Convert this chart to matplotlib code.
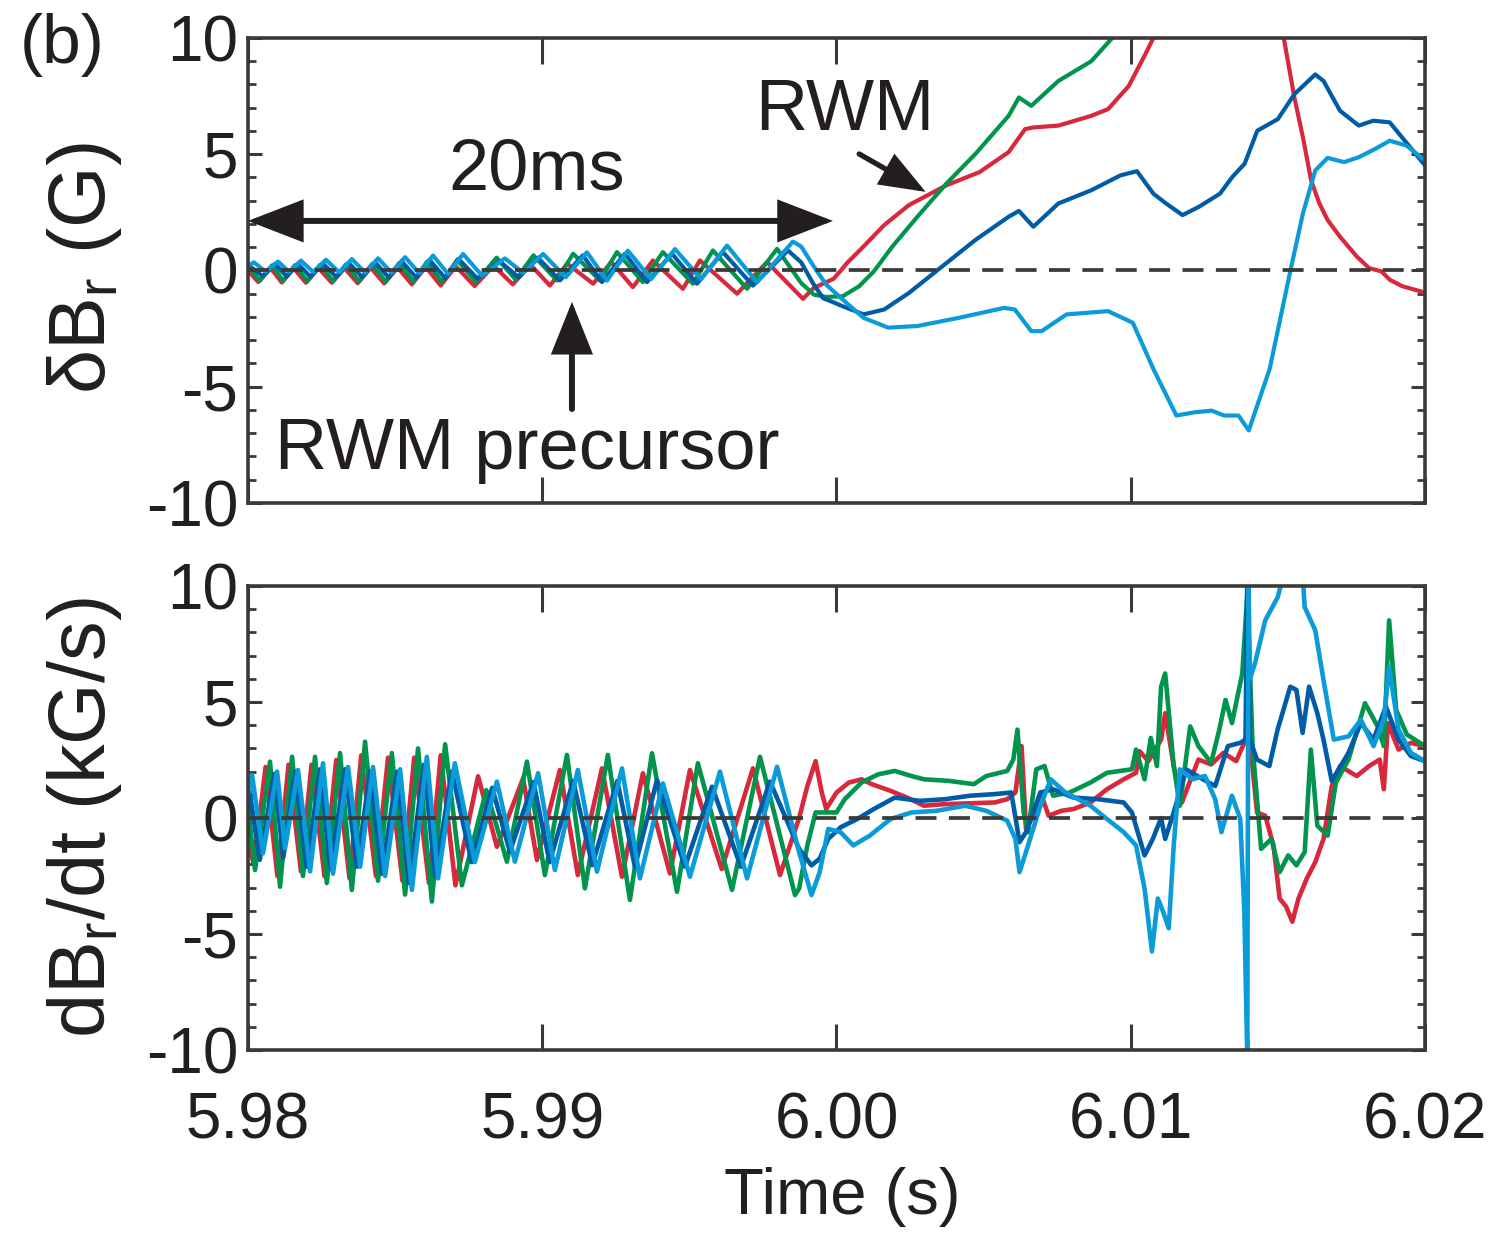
import numpy as np
import matplotlib
matplotlib.use('Agg')
import matplotlib.pyplot as plt
from matplotlib.ticker import MultipleLocator
from matplotlib.patches import FancyArrowPatch

plt.rcParams['font.family'] = ['Liberation Sans', 'DejaVu Sans']
plt.rcParams['axes.unicode_minus'] = False

nan = np.nan
T0 = 5.98  # s ; times below are in ms after T0

# ---------------- top panel: dBr (G) ----------------
top_red = [(0.00, 0.00), (0.35, -0.50), (0.77, 0.10), (1.15, -0.52), (1.55, 0.10), (1.97, -0.53),
           (2.40, 0.10), (2.85, -0.53), (3.28, 0.10), (3.73, -0.55), (4.17, 0.12), (4.63, -0.56),
           (5.09, 0.12), (5.57, -0.60), (6.04, 0.15), (6.55, -0.65), (7.06, 0.18), (7.70, -0.67),
           (8.35, 0.20), (9.00, -0.60), (9.60, 0.25), (10.26, -0.65), (10.85, 0.29), (11.73, -0.57),
           (12.35, 0.36), (13.08, -0.72), (13.76, 0.43), (14.78, -0.79), (15.36, 0.43), (16.62, -1.00),
           (17.64, 0.36), (18.86, -1.22), (19.23, -0.75), (19.90, -0.36), (20.15, 0.00), (20.35, 0.31),
           (20.92, 1.03), (21.62, 1.95), (22.46, 2.81), (23.73, 3.66), (24.86, 4.23), (25.85, 5.09),
           (26.41, 6.08), (26.69, 6.15), (27.54, 6.23), (28.66, 6.65), (29.23, 6.94), (29.93, 7.93),
           (30.49, 9.29), (30.77, 10.00), (30.90, 10.6), (nan, nan), (35.15, 10.6), (35.20, 10.00),
           (35.56, 7.44), (35.85, 5.73), (36.13, 3.87), (36.41, 2.88), (36.69, 2.17), (37.11, 1.45),
           (37.68, 0.60), (38.10, 0.10), (38.52, -0.04), (38.80, -0.40), (39.23, -0.68), (40.00, -0.95)]

top_green = [(0.00, 0.22), (0.40, -0.45), (0.82, 0.22), (1.20, -0.45), (1.60, 0.23), (2.02, -0.46),
             (2.45, 0.24), (2.90, -0.46), (3.33, 0.26), (3.78, -0.47), (4.22, 0.28), (4.68, -0.48),
             (5.14, 0.32), (5.62, -0.48), (6.09, 0.38), (6.60, -0.50), (7.11, 0.45), (7.75, -0.50),
             (8.45, 0.55), (9.10, -0.40), (9.70, 0.65), (10.50, -0.43), (11.05, 0.72), (11.96, -0.43),
             (12.54, 0.79), (13.42, -0.50), (14.10, 0.79), (15.12, -0.57), (15.80, 0.86), (16.96, -0.79),
             (17.98, 0.93), (18.80, -0.54), (19.23, -1.04), (19.65, -1.14), (20.21, -1.11), (20.77, -0.68),
             (21.27, -0.04), (21.90, 1.03), (22.75, 2.31), (23.73, 3.73), (24.72, 5.01), (25.85, 6.65),
             (26.20, 7.44), (26.62, 7.08), (27.54, 8.15), (28.66, 9.00), (29.37, 10.00), (29.55, 10.4)]

top_dblue = [(0.00, 0.25), (0.50, -0.25), (0.92, 0.27), (1.32, -0.26), (1.70, 0.28), (2.12, -0.27),
             (2.55, 0.30), (3.00, -0.28), (3.43, 0.32), (3.88, -0.29), (4.32, 0.35), (4.78, -0.30),
             (5.22, 0.40), (5.72, -0.31), (6.17, 0.45), (6.70, -0.33), (7.15, 0.50), (7.80, -0.35),
             (8.55, 0.40), (9.20, -0.30), (9.85, 0.55), (10.60, -0.43), (11.38, 0.65), (12.03, -0.50),
             (12.81, 0.72), (13.56, -0.50), (14.41, 0.72), (15.26, -0.57), (16.14, 0.79), (17.16, -0.65),
             (18.35, 0.86), (18.80, 0.35), (19.20, -0.55), (19.55, -1.20), (19.80, -1.32), (20.21, -1.54),
             (20.92, -1.89), (21.62, -1.68), (22.46, -0.97), (23.45, 0.03), (24.72, 1.31), (25.85, 2.31),
             (26.20, 2.56), (26.69, 1.88), (27.54, 2.88), (28.66, 3.45), (29.65, 4.09), (30.21, 4.27),
             (30.77, 3.30), (31.20, 2.88), (31.76, 2.38), (32.32, 2.74), (33.03, 3.30), (33.45, 4.02),
             (33.87, 4.59), (34.30, 6.01), (35.00, 6.51), (35.56, 7.58), (36.27, 8.43), (36.55, 8.15),
             (37.11, 6.87), (37.75, 6.23), (38.24, 6.44), (38.80, 6.37), (40.00, 4.52)]

top_cyan = [(0.00, 0.20), (0.20, 0.35), (0.60, -0.05), (1.02, 0.38), (1.40, -0.06), (1.80, 0.42),
            (2.22, -0.07), (2.65, 0.46), (3.10, -0.08), (3.53, 0.49), (3.98, -0.09), (4.42, 0.52),
            (4.88, -0.10), (5.34, 0.57), (5.82, -0.12), (6.29, 0.64), (6.80, -0.15), (7.31, 0.71),
            (7.95, -0.22), (8.73, 0.52), (9.35, -0.10), (10.03, 0.71), (10.80, -0.29), (11.52, 0.78),
            (12.20, -0.44), (12.91, 0.85), (13.70, -0.37), (14.51, 0.92), (15.40, -0.37), (16.28, 1.07),
            (17.30, -0.51), (18.52, 1.24), (18.80, 1.03), (19.23, 0.17), (19.65, -0.61), (20.21, -1.25),
            (20.92, -2.04), (21.76, -2.46), (22.75, -2.39), (24.15, -2.04), (25.70, -1.61), (26.06, -1.68),
            (26.62, -2.61), (26.97, -2.61), (27.82, -1.89), (29.23, -1.75), (30.07, -2.25), (30.77, -4.24),
            (31.55, -6.24), (32.18, -6.10), (32.75, -6.03), (33.17, -6.24), (33.66, -6.24), (34.01, -6.88),
            (34.72, -4.24), (35.42, -0.04), (35.85, 2.45), (36.27, 4.30), (36.69, 4.84), (37.25, 4.66),
            (37.75, 4.87), (38.31, 5.23), (38.80, 5.58), (39.37, 5.37), (40.00, 4.73)]

# ---------------- bottom panel: dBr/dt (kG/s) ----------------
bot_red = [(0.00, -1.00), (0.20, -2.00), (0.60, 2.20), (1.00, -2.50), (1.38, 2.30), (1.80, -2.30),
           (2.16, 2.30), (2.60, -2.50), (3.00, 2.50), (3.45, -2.60), (3.85, 2.70), (4.35, -2.50),
           (4.76, 2.60), (5.25, -2.70), (5.65, 2.60), (6.15, -2.80), (6.55, 2.70), (7.05, -2.90),
           (7.82, 1.80), (8.46, -1.24), (9.35, 1.71), (9.82, -1.81), (10.60, 2.07), (11.21, -2.46),
           (12.03, 2.14), (12.71, -2.53), (13.42, 1.93), (14.34, -2.39), (15.02, 2.07), (16.10, -2.20),
           (17.16, 2.14), (18.08, -2.46), (18.73, 0.00), (19.01, 1.38), (19.29, 2.45), (19.50, 1.10),
           (19.65, 0.39), (20.00, 1.10), (20.42, 1.53), (20.85, 1.67), (21.20, 1.46), (21.84, 1.17),
           (22.40, 0.88), (22.97, 0.53), (23.68, 0.60), (24.67, 0.64), (25.37, 0.67), (25.80, 0.81),
           (26.08, 1.10), (26.29, 3.10), (26.44, -0.47), (26.65, 0.00), (26.93, 1.10), (27.21, 0.10),
           (27.64, 0.31), (28.06, 0.39), (28.63, 0.67), (29.19, 1.24), (29.76, 1.67), (30.18, 1.95),
           (30.30, 2.88), (30.60, 2.45), (31.03, 3.38), (31.17, 4.52), (31.46, 2.24), (31.74, 0.67),
           (31.95, 1.38), (32.30, 2.52), (32.73, 2.31), (33.15, 2.81), (33.58, 2.45), (33.86, 3.24),
           (34.00, 3.95), (34.29, 0.24), (34.57, 0.10), (34.85, -1.18), (35.06, -3.47), (35.28, -3.82),
           (35.49, -4.47), (35.70, -3.47), (35.98, -2.61), (36.27, -1.90), (36.55, -0.90), (36.83, 1.38),
           (37.11, 2.24), (37.68, 1.81), (38.10, 2.24), (38.46, 2.52), (38.60, 1.24), (38.74, 4.09),
           (39.10, 2.95), (39.52, 3.24), (40.00, 3.10)]

bot_green = [(0.00, 0.50), (0.24, -2.24), (0.75, 2.43), (1.09, -2.96), (1.50, 2.64), (1.87, -2.50),
             (2.28, 2.64), (2.68, -2.80), (3.13, 2.80), (3.53, -3.10), (3.98, 3.29), (4.42, -2.70),
             (4.89, 2.80), (5.34, -3.30), (5.78, 3.00), (6.25, -3.60), (6.70, 3.18), (7.27, -2.90),
             (8.10, 1.20), (8.80, -1.88), (9.48, 2.43), (10.09, -2.46), (10.84, 2.72), (11.45, -3.03),
             (12.23, 2.72), (12.98, -3.53), (13.73, 2.79), (14.58, -3.18), (15.29, 2.36), (16.45, -3.10),
             (17.40, 2.64), (18.59, -3.32), (18.73, -3.04), (19.01, -1.18), (19.29, 0.24), (19.58, 0.24),
             (20.00, 0.24), (20.28, 0.81), (20.85, 1.53), (21.41, 1.88), (21.98, 2.03), (22.55, 1.81),
             (22.97, 1.67), (23.82, 1.60), (24.67, 1.46), (25.09, 1.81), (25.80, 2.03), (26.01, 2.52),
             (26.15, 3.81), (26.36, 0.24), (26.51, -0.61), (26.79, 2.10), (27.07, 2.24), (27.36, 0.96),
             (27.92, 1.10), (28.63, 1.53), (29.19, 1.95), (30.04, 2.10), (30.18, 2.95), (30.47, 1.67),
             (30.68, 3.45), (30.89, 2.24), (31.03, 5.66), (31.17, 6.23), (31.46, 2.24), (31.67, 0.53),
             (32.02, 3.95), (32.30, 3.10), (32.73, 2.38), (33.01, 3.81), (33.22, 5.09), (33.44, 4.09),
             (33.58, 4.95), (33.79, 6.23), (33.96, 9.66), (34.14, 3.10), (34.43, -1.33), (34.78, -0.90),
             (35.06, -2.33), (35.35, -1.61), (35.63, -2.04), (35.91, -1.47), (36.12, 2.95), (36.34, -0.33),
             (36.69, -0.76), (36.97, 1.53), (37.40, 2.52), (37.96, 4.95), (38.39, 3.95), (38.60, 3.10),
             (38.78, 8.52), (39.02, 4.66), (39.38, 3.60), (40.00, 3.10)]

bot_dblue = [(0.00, 1.60), (0.40, -1.80), (0.90, 1.90), (1.20, -1.70), (1.60, 2.00), (2.00, -2.10),
             (2.45, 2.10), (2.80, -2.20), (3.30, 2.10), (3.70, -2.10), (4.15, 2.00), (4.55, -2.40),
             (5.07, 2.00), (5.47, -2.80), (5.98, 2.30), (6.36, -2.50), (6.93, 2.00), (7.60, -1.90),
             (8.30, 1.30), (8.90, -1.45), (9.70, 1.55), (10.25, -1.90), (11.05, 1.60), (11.70, -2.03),
             (12.55, 1.60), (13.15, -2.10), (13.90, 1.64), (14.85, -2.10), (15.77, 1.35), (16.75, -2.10),
             (17.74, 1.57), (18.73, -1.33), (19.15, -2.04), (19.43, -1.75), (19.72, -0.90), (20.14, -0.40),
             (20.71, -0.04), (21.27, 0.39), (21.98, 0.88), (22.83, 0.74), (23.68, 0.81), (24.53, 0.96),
             (25.37, 1.03), (25.94, 1.10), (26.22, -1.04), (26.44, -0.61), (26.93, 1.10), (27.36, 1.24),
             (28.06, 0.88), (28.91, 0.81), (29.76, 0.67), (30.04, 0.24), (30.47, -1.61), (30.75, -0.90),
             (31.03, 0.00), (31.17, -0.90), (31.46, 0.24), (31.88, 2.10), (32.45, 1.67), (32.87, 1.38),
             (33.30, 3.10), (33.72, 3.24), (33.90, 3.38), (33.96, 10.3), (34.05, 3.38), (34.29, 2.52),
             (34.71, 2.24), (34.99, 3.81), (35.42, 5.66), (35.63, 5.52), (35.84, 3.67), (36.06, 5.66),
             (36.34, 4.52), (36.55, 3.38), (36.83, 1.60), (37.40, 2.81), (37.82, 4.09), (38.25, 3.38),
             (38.67, 4.81), (39.10, 3.38), (39.52, 2.67), (40.00, 2.45)]

bot_cyan = [(0.00, 1.00), (0.14, 1.85), (0.51, -1.52), (0.99, 2.00), (1.26, -1.30), (1.70, 2.07),
            (2.11, -2.30), (2.55, 2.36), (2.89, -2.40), (3.40, 2.20), (3.81, -2.10), (4.25, 2.20),
            (4.66, -2.50), (5.17, 2.10), (5.57, -3.10), (6.08, 2.64), (6.46, -2.60), (7.03, 2.36),
            (7.71, -1.90), (8.46, 1.57), (9.07, -1.88), (9.86, 1.93), (10.43, -2.24), (11.21, 2.07),
            (11.86, -2.31), (12.71, 2.14), (13.32, -2.60), (14.10, 1.49), (15.02, -2.53), (16.04, 2.00),
            (16.96, -2.60), (17.98, 2.21), (18.73, -1.47), (19.15, -3.32), (19.43, -2.33), (19.72, -0.47),
            (20.14, -0.61), (20.57, -1.18), (21.13, -0.76), (21.84, -0.04), (22.55, 0.24), (23.39, 0.31),
            (24.38, 0.53), (25.09, 0.31), (25.80, -0.11), (26.08, -0.90), (26.22, -2.33), (26.51, -1.18),
            (26.93, 0.53), (27.28, 1.67), (27.78, 1.10), (28.63, 0.53), (29.19, -0.04), (29.76, -0.61),
            (30.18, -1.18), (30.47, -3.04), (30.72, -5.75), (30.92, -3.47), (31.10, -4.04), (31.29, -4.75),
            (31.46, -1.18), (31.67, 2.10), (32.09, 1.67), (32.52, 1.81), (32.87, 0.81), (33.08, -0.61),
            (33.44, 0.96), (33.72, -0.04), (33.86, -4.04), (33.96, -10.3), (34.00, 10.3), (34.05, 6.00),
            (34.22, 6.66), (34.57, 8.52), (34.99, 9.51), (35.20, 10.5), (35.84, 10.5), (35.91, 9.09),
            (36.27, 8.09), (36.55, 5.95), (36.90, 3.38), (37.40, 3.52), (37.82, 4.24), (38.25, 3.10),
            (38.60, 4.24), (38.78, 6.52), (39.10, 3.81), (39.52, 2.81), (40.00, 2.45)]

x_ticks = [5.98, 5.99, 6.00, 6.01, 6.02]
x_ticklabels = ['5.98', '5.99', '6.00', '6.01', '6.02']
y_ticks = [-10, -5, 0, 5, 10]
y_ticklabels = ['-10', '-5', '0', '5', '10']

C_RED = '#d8283c'
C_GREEN = '#00944c'
C_DBLUE = '#005ca6'
C_CYAN = '#0b9bd8'
FRAME = '#3b3a36'
TXT = '#231f20'


def xy(data):
    a = np.array(data, dtype=float)
    return T0 + a[:, 0] / 1000.0, a[:, 1]


fig = plt.figure(figsize=(15.11, 12.40), dpi=100)
ax1 = fig.add_axes([0.1641, 0.5944, 0.7790, 0.3750])
ax2 = fig.add_axes([0.1641, 0.1532, 0.7790, 0.3742])

for ax, series, lw in ((ax1, (top_red, top_green, top_dblue, top_cyan), 3.0),
                       (ax2, (bot_red, bot_green, bot_dblue, bot_cyan), 3.3)):
    for data, col in zip(series, (C_RED, C_GREEN, C_DBLUE, C_CYAN)):
        x, y = xy(data)
        ax.plot(x, y, color=col, lw=lw, solid_joinstyle='round', solid_capstyle='round')
    ax.axhline(0, color=FRAME, lw=2.7, dashes=(5.6, 3.3), zorder=5)
    ax.set_xlim(5.98, 6.02)
    ax.set_ylim(-10, 10)
    ax.set_xticks(x_ticks)
    ax.set_yticks(y_ticks)
    ax.set_yticklabels(y_ticklabels)
    ax.yaxis.set_minor_locator(MultipleLocator(1))
    ax.tick_params(axis='x', which='major', direction='in', top=True, bottom=True,
                   length=19, width=2.2, color=FRAME, labelsize=46, labelcolor=TXT, pad=30)
    ax.tick_params(axis='y', which='major', direction='in', left=True, right=True,
                   length=10, width=2.2, color=FRAME, labelsize=46, labelcolor=TXT, pad=7)
    ax.tick_params(axis='y', which='minor', direction='in', left=True, right=True,
                   length=5.5, width=2.0, color=FRAME)
    for s in ax.spines.values():
        s.set_linewidth(2.6)
        s.set_color(FRAME)

ax1.set_xticklabels([])
ax2.set_xticklabels(x_ticklabels)

# labels
fig.text(85 / 1511, 1 - 268 / 1240, 'δB$_\\mathregular{r}$ (G)', rotation=90, ha='center',
         va='center', fontsize=57, color=TXT)
fig.text(85 / 1511, 1 - 818 / 1240, 'dB$_\\mathregular{r}$/dt (kG/s)', rotation=90, ha='center',
         va='center', fontsize=57, color=TXT)
fig.text(842 / 1511, 1 - 1197 / 1240, 'Time (s)', ha='center', va='center', fontsize=47, color=TXT)
fig.text(62 / 1511, 1 - 45 / 1240, '(b)', ha='center', va='center', fontsize=50, color=TXT)

# annotations
ax1.text(5.98982, 4.28, '20ms', ha='center', va='center', fontsize=52, color=TXT)
ax1.text(6.00029, 6.82, 'RWM', ha='center', va='center', fontsize=52, color=TXT)
ax1.text(5.98948, -7.76, 'RWM precursor', ha='center', va='center', fontsize=52, color=TXT)

arr_kw = dict(color=TXT, shrinkA=0, shrinkB=0, clip_on=False, zorder=6, joinstyle='miter')
ax1.add_patch(FancyArrowPatch((5.98, 2.13), (5.99988, 2.13),
                              arrowstyle='<|-|>,head_length=1.6,head_width=0.62',
                              mutation_scale=20, lw=4.3, **arr_kw))
ax1.add_patch(FancyArrowPatch((5.99101, -5.96), (5.99101, -1.35),
                              arrowstyle='-|>,head_length=1.5,head_width=0.6',
                              mutation_scale=20, lw=4.3, **arr_kw))
ax1.add_patch(FancyArrowPatch((6.00077, 5.01), (6.00303, 3.38),
                              arrowstyle='-|>,head_length=1.3,head_width=0.5',
                              mutation_scale=20, lw=3.8, **arr_kw))

fig.savefig('out.png', dpi=100)
